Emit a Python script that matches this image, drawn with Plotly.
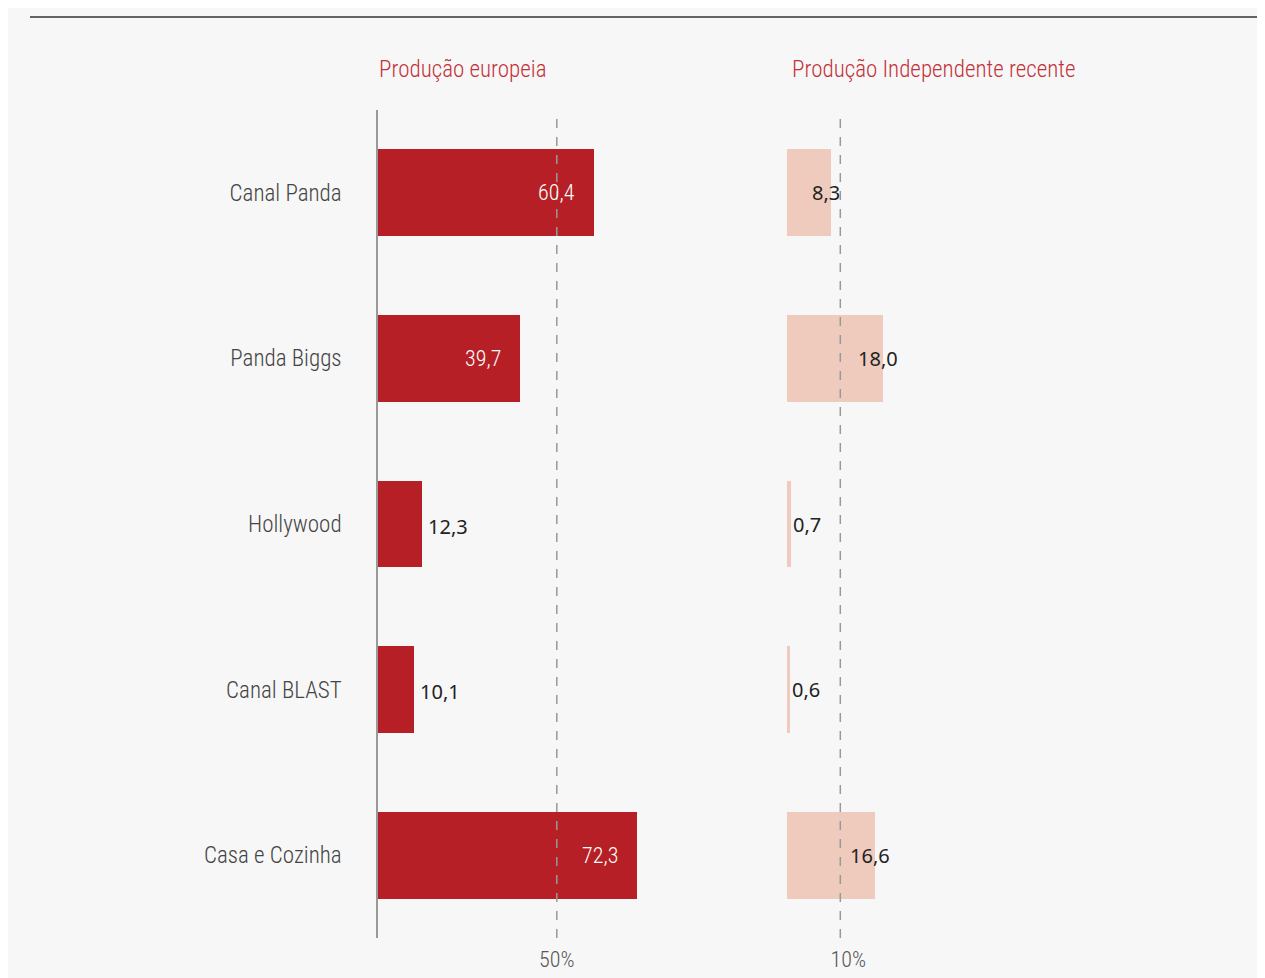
import plotly.graph_objects as go

# page has an 8px body margin; figure fills the rest of the 1265x978 window
OFF = 8
W, H = 1265 - OFF, 978 - OFF

categories = ["Canal Panda", "Panda Biggs", "Hollywood", "Canal BLAST", "Casa e Cozinha"]
europeia = [60.4, 39.7, 12.3, 10.1, 72.3]
independente = [8.3, 18.0, 0.7, 0.6, 16.6]
title_left = "Produção europeia"
title_right = "Produção Independente recente"
ref_left = 50
ref_right = 10
tick_left = "50%"
tick_right = "10%"

COND = "Liberation Sans Narrow, Roboto Condensed, Roboto, sans-serif"
REG = "Noto Sans, Open Sans, sans-serif"
RED = "#b51f25"
PINK = "#eecbbd"
TITLE_RED = "#c4313a"


def px_x(p):
    return (p - OFF) / W


def px_y(p):
    return 1 - (p - OFF) / H


def fmt(v):
    return f"{v:.1f}".replace(".", ",")


fig = go.Figure()

fig.add_trace(go.Bar(
    y=categories, x=europeia, orientation="h", marker=dict(color=RED, line=dict(width=0)),
    width=0.525, xaxis="x", yaxis="y", hoverinfo="skip", showlegend=False,
))
fig.add_trace(go.Bar(
    y=categories, x=independente, orientation="h", marker=dict(color=PINK, line=dict(width=0)),
    width=0.525, xaxis="x2", yaxis="y2", hoverinfo="skip", showlegend=False,
))

annotations = []
for c, v in zip(categories, europeia):
    if v >= 30:
        annotations.append(dict(x=v, y=c, xref="x", yref="y", text=fmt(v), showarrow=False,
                                xanchor="right", xshift=-17,
                                font=dict(family=COND, size=22, color="#ffffff", weight=300)))
    else:
        annotations.append(dict(x=v, y=c, xref="x", yref="y", text=fmt(v), showarrow=False,
                                xanchor="left", xshift=4, yshift=-2,
                                font=dict(family=REG, size=20, color="#222222")))
for c, v in zip(categories, independente):
    if v >= 5:
        annotations.append(dict(x=v, y=c, xref="x2", yref="y2", text=fmt(v), showarrow=False,
                                xanchor="center", xshift=-5,
                                font=dict(family=REG, size=20, color="#222222")))
    else:
        annotations.append(dict(x=v, y=c, xref="x2", yref="y2", text=fmt(v), showarrow=False,
                                xanchor="left", xshift=0,
                                font=dict(family=REG, size=20, color="#222222")))

annotations.append(dict(x=px_x(377), y=px_y(70), xref="paper", yref="paper", text=title_left,
                        showarrow=False, xanchor="left", yanchor="middle",
                        font=dict(family=COND, size=23, color=TITLE_RED, weight=300)))
annotations.append(dict(x=px_x(790), y=px_y(70), xref="paper", yref="paper", text=title_right,
                        showarrow=False, xanchor="left", yanchor="middle",
                        font=dict(family=COND, size=23, color=TITLE_RED, weight=300)))

shapes = [
    dict(type="line", xref="paper", yref="paper", x0=px_x(30), x1=px_x(1258), y0=px_y(17), y1=px_y(17),
         line=dict(color="#333333", width=1.5)),
    dict(type="line", xref="x", yref="paper", x0=ref_left, x1=ref_left, y0=px_y(938), y1=px_y(110),
         line=dict(color="#999999", width=1.5, dash="dash"), layer="above"),
    dict(type="line", xref="x2", yref="paper", x0=ref_right, x1=ref_right, y0=px_y(938), y1=px_y(110),
         line=dict(color="#999999", width=1.5, dash="dash"), layer="above"),
]

y_dom = [px_y(938), px_y(110)]

fig.update_layout(
    width=W, height=H,
    margin=dict(l=0, r=0, t=0, b=0),
    paper_bgcolor="#f7f7f7", plot_bgcolor="rgba(0,0,0,0)",
    bargap=0,
    xaxis=dict(domain=[px_x(378), px_x(378 + 80 * 3.576)], range=[0, 80], anchor="y",
               tickvals=[ref_left], ticktext=[tick_left], showgrid=False, zeroline=False,
               showline=False, ticks="outside", ticklen=2, tickcolor="rgba(0,0,0,0)",
               tickfont=dict(family=COND, size=22, color="#555555", weight=300), fixedrange=True),
    xaxis2=dict(domain=[px_x(787), px_x(787 + 40 * 5.33)], range=[0, 40], anchor="y2",
                tickvals=[ref_right], ticktext=[tick_right], showgrid=False, zeroline=False,
                showline=False, ticks="outside", ticklen=2, tickcolor="rgba(0,0,0,0)",
                ticklabelshift=8,
                tickfont=dict(family=COND, size=22, color="#555555", weight=300), fixedrange=True),
    yaxis=dict(domain=y_dom, type="category", categoryorder="array", categoryarray=categories,
               autorange="reversed", anchor="x", showgrid=False, zeroline=False,
               showline=True, linecolor="#999999", linewidth=1.5, ticks="",
               ticklabelstandoff=30,
               tickfont=dict(family=COND, size=23, color="#444444", weight=300), fixedrange=True),
    yaxis2=dict(domain=y_dom, type="category", categoryorder="array", categoryarray=categories,
                autorange="reversed", anchor="x2", showgrid=False, zeroline=False,
                showline=False, showticklabels=False, ticks="", fixedrange=True),
    annotations=annotations,
    shapes=shapes,
)

fig.write_html("out.html")
